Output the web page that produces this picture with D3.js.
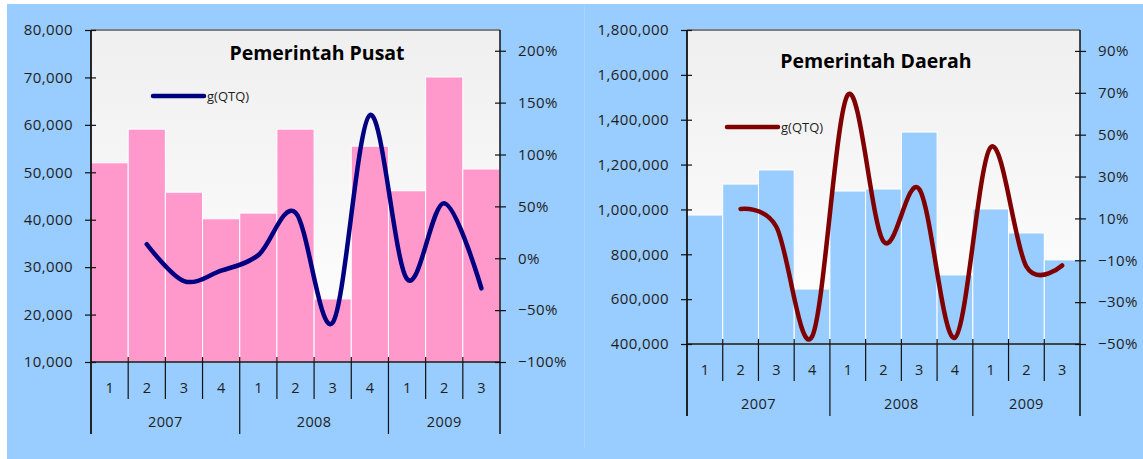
<!DOCTYPE html>
<html>
<head>
<meta charset="utf-8">
<script src="https://cdn.jsdelivr.net/npm/d3@7/dist/d3.min.js"></script>
<style>
  html, body { margin: 0; padding: 0; background: #ffffff; }
  svg { display: block; font-family: "Open Sans", "Noto Sans", sans-serif; }
</style>
</head>
<body>
<svg id="chart" width="1143" height="459"></svg>
<script>
// Quarters and years shared by both panels
const quarters = ["1", "2", "3", "4", "1", "2", "3", "4", "1", "2", "3"];
const years = [
  { label: "2007", start: 0, end: 4 },
  { label: "2008", start: 4, end: 8 },
  { label: "2009", start: 8, end: 11 }
];

// Pemerintah Pusat: level (bars) and quarter-on-quarter growth (line, from Q2 2007)
const pusatLevel = [52000, 59100, 45800, 40200, 41400, 59100, 23300, 55500, 46100, 70100, 50700];
const pusatGrowth = [null, 0.135, -0.22, -0.12, 0.03, 0.44, -0.62, 1.38, -0.20, 0.53, -0.29];
const pusatLeftTicks = [10000, 20000, 30000, 40000, 50000, 60000, 70000, 80000];
const pusatRightTicks = [-1, -0.5, 0, 0.5, 1, 1.5, 2];

// Pemerintah Daerah
const daerahLevel = [975000, 1113000, 1176000, 645000, 1082000, 1091000, 1345000, 708000, 1002000, 895000, 775000];
const daerahGrowth = [null, 0.145, 0.06, -0.465, 0.69, -0.01, 0.24, -0.47, 0.44, -0.13, -0.125];
const daerahLeftTicks = [400000, 600000, 800000, 1000000, 1200000, 1400000, 1600000, 1800000];
const daerahRightTicks = [-0.5, -0.3, -0.1, 0.1, 0.3, 0.5, 0.7, 0.9];

const legendLabel = "g(QTQ)";

const svg = d3.select("#chart");
const defs = svg.append("defs");
const grad = defs.append("linearGradient")
  .attr("id", "plotFill").attr("x1", 0).attr("y1", 0).attr("x2", 0).attr("y2", 1);
grad.append("stop").attr("offset", "0%").attr("stop-color", "#efefef");
grad.append("stop").attr("offset", "100%").attr("stop-color", "#ffffff");

// light blue backdrop behind both panels
svg.append("rect").attr("x", 7).attr("y", 4).attr("width", 1136).attr("height", 455)
  .attr("fill", "#99ccff");
svg.append("line").attr("x1", 584.5).attr("x2", 584.5).attr("y1", 4).attr("y2", 448)
  .attr("stroke", "#a9d3fb").attr("stroke-width", 1);

const textColor = "#1e1e1e";

function panel(cfg) {
  const g = svg.append("g");
  const x = d3.scaleBand().domain(d3.range(quarters.length)).range([cfg.x0, cfg.x1]).padding(0);
  const yL = d3.scaleLinear().domain(cfg.leftDomain).range([cfg.y1, cfg.y0]);
  const yR = d3.scaleLinear().domain(cfg.rightDomain).range([cfg.y1, cfg.y0]);
  const bw = x.bandwidth();

  // plot area
  g.append("rect").attr("x", cfg.x0).attr("y", cfg.y0)
    .attr("width", cfg.x1 - cfg.x0).attr("height", cfg.y1 - cfg.y0)
    .attr("fill", "url(#plotFill)");
  g.append("line").attr("x1", cfg.x0).attr("x2", cfg.x1).attr("y1", cfg.y0).attr("y2", cfg.y0)
    .attr("stroke", "#7f7f7f").attr("stroke-width", 2);

  // bars
  g.selectAll("rect.bar").data(cfg.level).join("rect")
    .attr("class", "bar")
    .attr("x", (d, i) => x(i))
    .attr("y", d => yL(d))
    .attr("width", bw)
    .attr("height", d => cfg.y1 - yL(d))
    .attr("fill", cfg.barColor)
    .attr("stroke", "#ffffff").attr("stroke-width", 1);

  // title
  g.append("text").attr("x", cfg.titleX).attr("y", cfg.titleY)
    .attr("text-anchor", "middle").attr("font-weight", "bold").attr("font-size", 19.5)
    .attr("fill", "#000").text(cfg.title);

  // growth line
  const pts = cfg.growth.map((d, i) => ({ i, d })).filter(p => p.d !== null);
  const line = d3.line()
    .x(p => x(p.i) + bw / 2)
    .y(p => yR(p.d))
    .curve(d3.curveCardinal.tension(0));
  g.append("path").datum(pts).attr("d", line)
    .attr("fill", "none").attr("stroke", cfg.lineColor).attr("stroke-width", 4.5)
    .attr("stroke-linecap", "round").attr("stroke-linejoin", "round");

  // legend
  g.append("line").attr("x1", cfg.legX).attr("x2", cfg.legX + 51)
    .attr("y1", cfg.legY).attr("y2", cfg.legY)
    .attr("stroke", cfg.lineColor).attr("stroke-width", 4.5).attr("stroke-linecap", "round");
  g.append("text").attr("x", cfg.legX + 54).attr("y", cfg.legY + 5)
    .attr("font-size", 13).attr("fill", textColor).text(legendLabel);

  // left value axis
  const axL = g.append("g").attr("transform", `translate(${cfg.x0},0)`)
    .call(d3.axisLeft(yL).tickValues(cfg.leftTicks).tickFormat(d3.format(",")).tickSize(6).tickPadding(12));
  axL.select(".domain").remove();
  axL.selectAll(".tick line").attr("x1", -6).attr("x2", 5).attr("stroke", "#111").attr("stroke-width", 1.2);
  axL.selectAll(".tick text").attr("font-size", cfg.tickFont).attr("fill", textColor)
    .attr("letter-spacing", 0.4)
    .attr("font-family", "'Open Sans', sans-serif");

  // right percent axis
  const axR = g.append("g").attr("transform", `translate(${cfg.x1},0)`)
    .call(d3.axisRight(yR).tickValues(cfg.rightTicks).tickFormat(d3.format(".0%")).tickSize(6).tickPadding(12));
  axR.select(".domain").remove();
  axR.selectAll(".tick line").attr("x1", -5).attr("x2", 6).attr("stroke", "#111").attr("stroke-width", 1.2);
  axR.selectAll(".tick text").attr("font-size", cfg.tickFont).attr("fill", textColor)
    .attr("letter-spacing", 0.4)
    .attr("font-family", "'Open Sans', sans-serif");

  // vertical axis lines run down through the category labels
  const yearBottom = cfg.y1 + 72;
  g.append("line").attr("x1", cfg.x0).attr("x2", cfg.x0).attr("y1", cfg.y0).attr("y2", yearBottom)
    .attr("stroke", "#111").attr("stroke-width", 1.8);
  g.append("line").attr("x1", cfg.x1).attr("x2", cfg.x1).attr("y1", cfg.y0).attr("y2", yearBottom)
    .attr("stroke", "#111").attr("stroke-width", 1.5);

  // category axis
  g.append("line").attr("x1", cfg.x0).attr("x2", cfg.x1).attr("y1", cfg.y1).attr("y2", cfg.y1)
    .attr("stroke", "#111").attr("stroke-width", 1.5);
  const cat = g.append("g").attr("transform", `translate(0,${cfg.y1})`)
    .call(d3.axisBottom(x).tickFormat(i => quarters[i]).tickSize(0).tickPadding(0));
  cat.select(".domain").remove();
  cat.selectAll(".tick text").attr("dy", null).attr("y", 31)
    .attr("font-size", cfg.catFont).attr("fill", textColor)
    .attr("font-family", "'Open Sans', sans-serif");

  const yearStarts = new Set(years.map(yv => yv.start));
  const bounds = d3.range(1, quarters.length);
  g.selectAll("line.qtick").data(bounds).join("line")
    .attr("class", "qtick")
    .attr("x1", i => x(i)).attr("x2", i => x(i))
    .attr("y1", cfg.y1 - 5)
    .attr("y2", i => yearStarts.has(i) ? yearBottom : cfg.y1 + 37)
    .attr("stroke", "#111").attr("stroke-width", 1.2);

  g.selectAll("text.year").data(years).join("text")
    .attr("class", "year")
    .attr("x", yv => (x(yv.start) + (yv.end < quarters.length ? x(yv.end) : cfg.x1)) / 2)
    .attr("y", cfg.y1 + 65)
    .attr("text-anchor", "middle").attr("font-size", cfg.catFont).attr("fill", textColor)
    .attr("letter-spacing", 0.4)
    .text(yv => yv.label);
}

panel({
  x0: 91, x1: 500, y0: 30, y1: 362,
  leftDomain: [10000, 80000], rightDomain: [-1, 2.2],
  leftTicks: pusatLeftTicks, rightTicks: pusatRightTicks,
  level: pusatLevel, growth: pusatGrowth,
  barColor: "#ff99cc", lineColor: "#000080",
  title: "Pemerintah Pusat", titleX: 317, titleY: 60,
  legX: 153, legY: 96, tickFont: 15, catFont: 14.5
});

panel({
  x0: 687, x1: 1080, y0: 30, y1: 344,
  leftDomain: [400000, 1800000], rightDomain: [-0.5, 1.0],
  leftTicks: daerahLeftTicks, rightTicks: daerahRightTicks,
  level: daerahLevel, growth: daerahGrowth,
  barColor: "#99ccff", lineColor: "#800000",
  title: "Pemerintah Daerah", titleX: 876, titleY: 68,
  legX: 727, legY: 127, tickFont: 15, catFont: 14.5
});
</script>
</body>
</html>
